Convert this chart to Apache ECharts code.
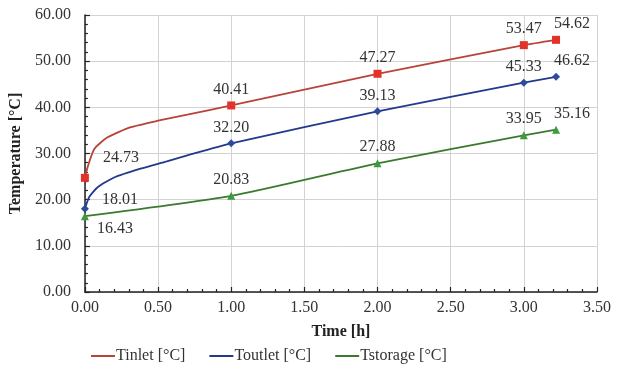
<!DOCTYPE html>
<html>
<head>
<meta charset="utf-8">
<script src="https://cdn.jsdelivr.net/npm/echarts@6/dist/echarts.min.js"></script>
<style>html,body{margin:0;padding:0;background:#fff}#c{width:621px;height:374px}</style>
</head>
<body>
<div id="c"></div>
<script>
// Marked data points
var timeMarked = [0, 1, 2, 3, 3.22];
var tinlet = [24.73, 40.41, 47.27, 53.47, 54.62];
var toutlet = [18.01, 32.20, 39.13, 45.33, 46.62];
var tstorage = [16.43, 20.83, 27.88, 33.95, 35.16];
// Unmarked curve points (early steep rise)
var tinletCurveX = [0.018, 0.064, 0.155, 0.314, 0.5, 0.7];
var tinletCurveY = [27.0, 31.0, 33.5, 35.7, 37.1, 38.4];
var toutletCurveX = [0.03, 0.087, 0.2, 0.38, 0.56, 0.7];
var toutletCurveY = [20.6, 22.7, 24.8, 26.7, 28.3, 29.6];
var seriesNames = ['Tinlet [°C]', 'Toutlet [°C]', 'Tstorage [°C]'];

var FONT = 'Liberation Serif';
var firstOffsets = [[9, -20], [8, -9], [3, 13]];

function build(idx, vals, cx, cy) {
  var pts = [];
  for (var i = 0; i < timeMarked.length; i++) {
    var lab = {show: true, position: 'top', distance: 4};
    if (i === 0) { lab = {show: true, position: 'right', offset: firstOffsets[idx], distance: 5}; }
    if (i === timeMarked.length - 1) { lab.offset = [16, 0]; }
    pts.push({value: [timeMarked[i], vals[i]], label: lab});
  }
  for (var j = 0; j < cx.length; j++) {
    pts.push({value: [cx[j], cy[j]], symbol: 'none', label: {show: false}});
  }
  pts.sort(function (a, b) { return a.value[0] - b.value[0]; });
  return pts;
}

var lineColors = ['#b8433c', '#22398c', '#3b7a2e'];
var markColors = ['#e2322a', '#2d4b9e', '#3d9a3e'];
var symbols = ['rect', 'diamond', 'triangle'];
var symSizes = [8, 8, 8];
var datas = [build(0, tinlet, tinletCurveX, tinletCurveY), build(1, toutlet, toutletCurveX, toutletCurveY), build(2, tstorage, [], [])];

var chart = echarts.init(document.getElementById('c'));
chart.setOption({
  animation: false,
  backgroundColor: '#fff',
  textStyle: {fontFamily: FONT},
  grid: {left: 84, right: 24, top: 15, bottom: 82, containLabel: false},
  legend: {
    data: seriesNames.map(function (n, k) { return {name: n, icon: 'rect', itemStyle: {color: lineColors[k]}}; }),
    left: 86, bottom: 5, itemWidth: 24, itemHeight: 2, itemGap: 24,
    textStyle: {fontFamily: FONT, fontSize: 16, color: '#333', padding: [0, 0, 0, -4]}
  },
  xAxis: {
    type: 'value', min: 0, max: 3.5, interval: 0.5,
    name: 'Time [h]', nameLocation: 'middle', nameGap: 32,
    nameTextStyle: {fontFamily: FONT, fontSize: 16, fontWeight: 'bold', color: '#222'},
    axisLine: {show: true, lineStyle: {color: '#222', width: 1.5}},
    axisTick: {show: true, inside: true, length: 5, lineStyle: {color: '#222', width: 1.2}},
    minorTick: {show: true, splitNumber: 5, length: 3, lineStyle: {color: '#222', width: 1.2}},
    axisLabel: {fontFamily: FONT, fontSize: 16, color: '#333', margin: 8, formatter: function (v) { return v.toFixed(2); }},
    splitLine: {show: true, lineStyle: {color: '#d3d3d3', width: 1}}
  },
  yAxis: {
    type: 'value', min: 0, max: 60, interval: 10,
    name: 'Temperature [°C]', nameLocation: 'middle', nameGap: 58,
    nameTextStyle: {fontFamily: FONT, fontSize: 16, fontWeight: 'bold', color: '#222'},
    axisLine: {show: true, lineStyle: {color: '#222', width: 1.5}},
    axisTick: {show: true, inside: true, length: 5, lineStyle: {color: '#222', width: 1.2}},
    minorTick: {show: true, splitNumber: 5, length: 3, lineStyle: {color: '#222', width: 1.2}},
    axisLabel: {fontFamily: FONT, fontSize: 16, color: '#333', margin: 14, formatter: function (v) { return v.toFixed(2); }},
    splitLine: {show: true, lineStyle: {color: '#d3d3d3', width: 1}}
  },
  series: seriesNames.map(function (n, k) {
    return {
      name: n, type: 'line', data: datas[k],
      smooth: 0.2,
      symbol: symbols[k], symbolSize: symSizes[k], showAllSymbol: true,
      lineStyle: {color: lineColors[k], width: 1.8},
      itemStyle: {color: markColors[k]},
      label: {show: false, fontFamily: FONT, fontSize: 16, color: '#333',
        formatter: function (p) { return p.value[1].toFixed(2); }},
      emphasis: {disabled: true},
      z: 3 - k
    };
  })
});
</script>
</body>
</html>
